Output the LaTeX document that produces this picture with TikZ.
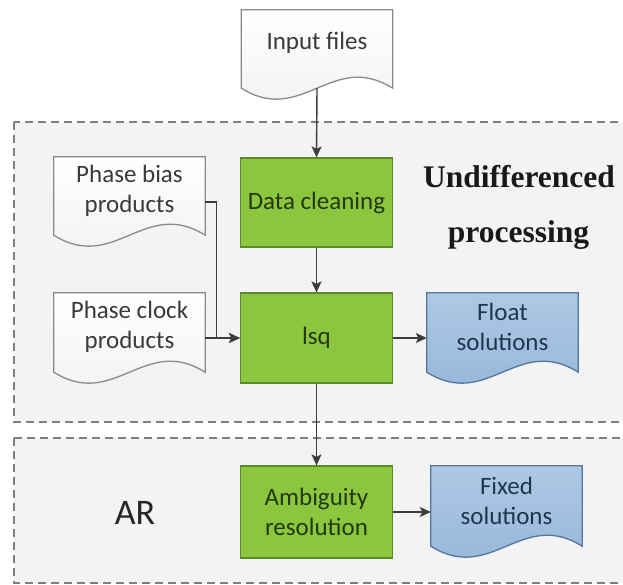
\documentclass[tikz,border=0pt]{standalone}
\usepackage{fontspec}
\setmainfont{Carlito}
\newfontfamily\titlefont{Liberation Serif}
\usetikzlibrary{calc,arrows.meta,backgrounds}
\definecolor{gfill}{HTML}{8CC63E}
\definecolor{gdraw}{HTML}{5A8A2A}
\definecolor{gtext}{HTML}{22380F}
\definecolor{bfill}{HTML}{AEC8E4}
\definecolor{bfill2}{HTML}{93B4D8}
\definecolor{bdraw}{HTML}{52769E}
\definecolor{btext}{HTML}{1F3550}
\definecolor{ddraw}{HTML}{8A8A8A}
\definecolor{dtext}{HTML}{3A3A3A}
\definecolor{arr}{HTML}{3C3C3C}
\definecolor{zone}{HTML}{F3F3F3}
\definecolor{zonedraw}{HTML}{7F7F7F}
\newcommand{\docpath}[3]{%
  \path[#3] (#1.north west) -- (#1.north east) -- ($(#1.south east)+(0,#2)$)
    .. controls ($(#1.south west)!0.6!(#1.south east)+(0,#2-38)$)
       and ($(#1.south west)!0.4!(#1.south east)+(0,#2+38)$)
    .. ($(#1.south west)+(0,#2)$) -- cycle;}
\tikzset{
  lbl/.style={font=\fontsize{25}{30}\selectfont, align=center},
  gbox/.style={lbl, rectangle, fill=gfill, draw=gdraw, line width=1.2pt, text=gtext, minimum width=152pt, inner sep=0pt},
  docw/.style={lbl, rectangle, inner sep=0pt, text=dtext, minimum width=151pt},
  docb/.style={lbl, rectangle, inner sep=0pt, text=btext, minimum width=151pt},
  wshape/.style={draw=ddraw, line width=1.3pt, top color=white, bottom color=gray!12},
  bshape/.style={draw=bdraw, line width=1.3pt, top color=bfill, bottom color=bfill2},
  zonebox/.style={draw=zonedraw, fill=zone, line width=1.3pt, dash pattern=on 8pt off 5pt},
  link/.style={draw=arr, line width=1.4pt},
  arrowed/.style={-{Stealth[length=11pt,width=10pt,inset=2.5pt]}},
  bigtitle/.style={font=\titlefont\bfseries\fontsize{31.5}{36}\selectfont, text=black!90},
}
\begin{document}
\begin{tikzpicture}[x=1pt,y=-1pt]
\useasboundingbox (0,0) rectangle (623,585);
% nodes
\node[docw, minimum height=66pt] (inp) at (317,43) {Input files};
\node[gbox, minimum height=89pt] (dc) at (316.5,202.5) {Data cleaning};
\node[docw, minimum height=67pt] (bias) at (129.5,190.5) {Phase bias\\products};
\node[docw, minimum height=68pt] (clock) at (129.5,327) {Phase clock\\products};
\node[gbox, minimum height=90pt] (lsq) at (316.5,338) {lsq};
\node[docb, minimum height=68pt] (float) at (502.5,327) {Float\\solutions};
\node[gbox, minimum height=92pt] (amb) at (316.5,512) {Ambiguity\\resolution};
\node[docb, minimum height=70pt] (fixed) at (506.5,501) {Fixed\\solutions};
\node[bigtitle] (undiff) at (519,177) {Undifferenced};
\node[bigtitle] (proc) at (518.5,235) {processing};
\node[font=\fontsize{36}{40}\selectfont, text=black!85] (ar) at (135,513) {AR};
% connectors
\draw[link,arrowed] ($(inp.south)+(0,12)$) -- (dc.north);
\draw[link,arrowed] (dc.south) -- (lsq.north);
\draw[link,arrowed] ($(bias.east)+(0,11.5)$) -- ++(11,0) |- (lsq.west);
\draw[link,arrowed] (clock.east |- lsq.west) -- (lsq.west);
\draw[link,arrowed] (lsq.east) -- (float.west |- lsq.east);
\draw[link,arrowed] (lsq.south) -- (amb.north);
\draw[link,arrowed] (amb.east) -- (fixed.west |- amb.east);
% background
\begin{scope}[on background layer]
\fill[white] (0,0) rectangle (623,585);
\path[zonebox] (14,122) rectangle (640,422);
\path[zonebox] (14,438) rectangle (640,583);
\docpath{inp}{12}{wshape}
\docpath{bias}{11}{wshape}
\docpath{clock}{11}{wshape}
\docpath{float}{11}{bshape}
\docpath{fixed}{10}{bshape}
\end{scope}
\end{tikzpicture}
\end{document}
